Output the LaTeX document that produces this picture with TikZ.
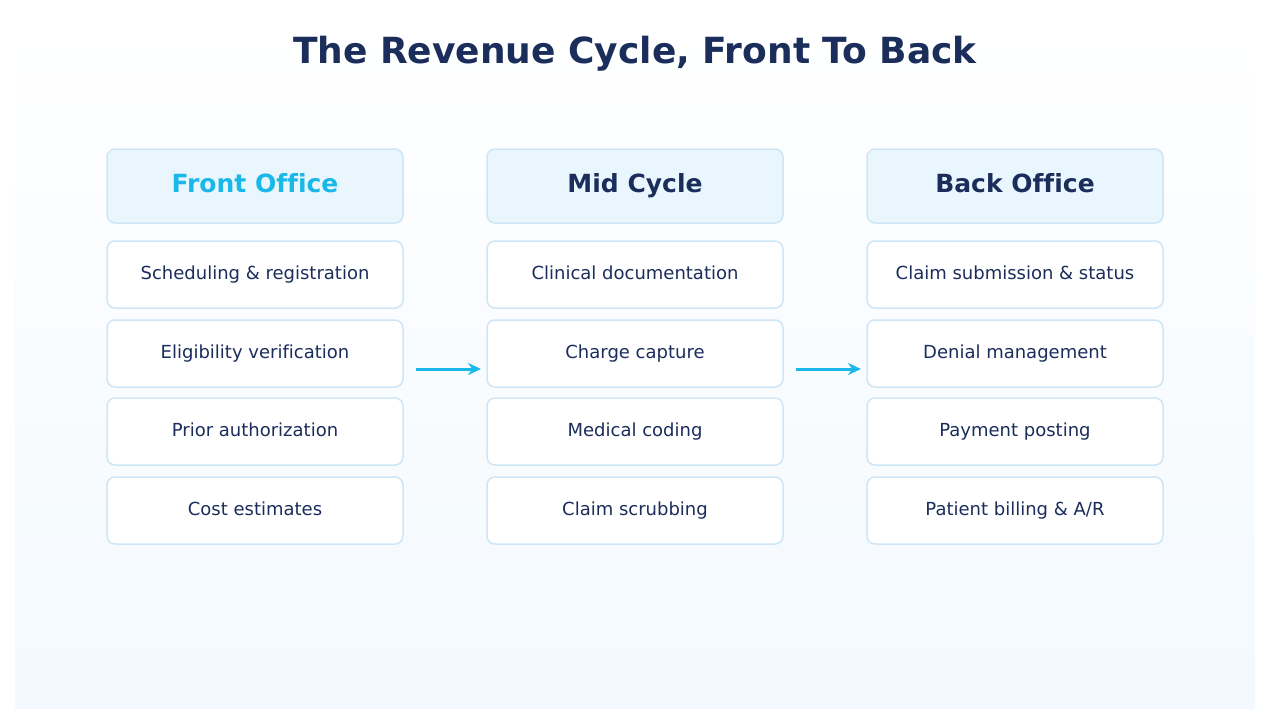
\documentclass[tikz,border=0pt]{standalone}
\usepackage{fontspec}
\setmainfont{DejaVu Sans}[Ligatures=NoCommon]
\usetikzlibrary{arrows.meta}
\definecolor{navy}{HTML}{1B2D5B}
\definecolor{cyanA}{HTML}{1AB8E8}
\definecolor{edgeB}{HTML}{CFE6F7}
\definecolor{hdrF}{HTML}{EAF6FE}
\definecolor{bgB}{HTML}{F3F9FE}
\begin{document}
\begin{tikzpicture}[x=1pt,y=-1pt,
  box/.style={draw=edgeB,line width=1.5pt,rounded corners=8pt,fill=white,minimum width=296pt,minimum height=67pt,text=navy,font=\fontsize{18}{20}\selectfont,inner sep=0pt,execute at begin node={\vphantom{Ay}}},
  hdr/.style={box,fill=hdrF,minimum height=74pt,font=\fontsize{25}{27}\selectfont\bfseries},
  arr/.style={-{Stealth[length=13pt,width=12pt]},draw=cyanA,line width=3pt}]
\useasboundingbox (0,0) rectangle (1270,723);
\fill[white] (0,0) rectangle (1270,723);
\shade[top color=white,bottom color=bgB] (15,15) rectangle (1255,708);
\node[text=navy,font=\fontsize{36}{40}\selectfont\bfseries] (title) at (635,54) {The Revenue Cycle, Front To Back};
\node[hdr,text=cyanA] (h1) at (255,186) {Front Office};
\node[hdr] (h2) at (635,186) {Mid Cycle};
\node[hdr] (h3) at (1015,186) {Back Office};
\foreach \c/\x/\a/\b/\cc/\d in {1/255/Scheduling \& registration/Eligibility verification/Prior authorization/Cost estimates,
 2/635/Clinical documentation/Charge capture/Medical coding/Claim scrubbing,
 3/1015/Claim submission \& status/Denial management/Payment posting/{Patient billing \& A/R}}{
 \node[box] (r\c a) at (\x,274.5) {\a};
 \node[box] (r\c b) at (\x,353.5) {\b};
 \node[box] (r\c c) at (\x,431.5) {\cc};
 \node[box] (r\c d) at (\x,510.5) {\d};
}
\coordinate (a1s) at (416,369); \coordinate (a1e) at (481,369);
\coordinate (a2s) at (796,369); \coordinate (a2e) at (861,369);
\draw[arr] (a1s) -- (a1e);
\draw[arr] (a2s) -- (a2e);
\end{tikzpicture}
\end{document}
